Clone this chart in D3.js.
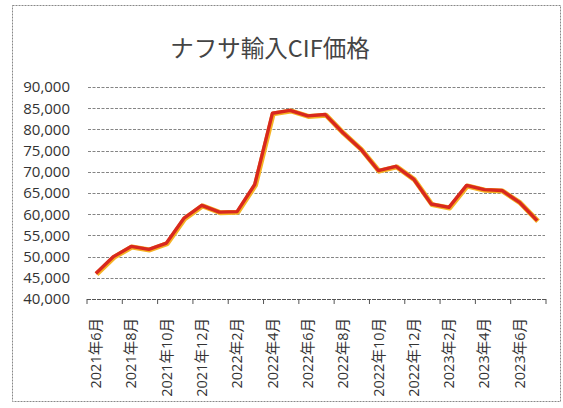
<!DOCTYPE html>
<html>
<head>
<meta charset="utf-8">
<script src="https://cdn.jsdelivr.net/npm/d3@7"></script>
<style>
  body { margin: 0; background: #fff; }
  svg { display: block; }
  .ylab, .xlab { font-family: "Open Sans", "Noto Sans CJK JP", sans-serif; font-size: 15px; fill: #333; }
  .xlab { font-size: 14.5px; }
</style>
</head>
<body>
<svg id="chart" width="563" height="408"></svg>
<script>
// ナフサ輸入CIF価格 (円/kl)
var months = ["2021年6月","2021年7月","2021年8月","2021年9月","2021年10月","2021年11月","2021年12月",
  "2022年1月","2022年2月","2022年3月","2022年4月","2022年5月","2022年6月","2022年7月","2022年8月",
  "2022年9月","2022年10月","2022年11月","2022年12月","2023年1月","2023年2月","2023年3月","2023年4月",
  "2023年5月","2023年6月","2023年7月"];
var prices = [46000, 50000, 52400, 51700, 53200, 59100, 62100, 60500, 60600, 67000, 83800, 84500, 83200,
  83500, 79200, 75400, 70300, 71300, 68300, 62400, 61600, 66800, 65800, 65600, 62800, 58500];
var yTicks = [40000, 45000, 50000, 55000, 60000, 65000, 70000, 75000, 80000, 85000, 90000];
var title = "ナフサ輸入CIF価格";

var svg = d3.select("#chart");

// outer frame (scanned dotted border)
svg.append("rect")
  .attr("x", 12.5).attr("y", 5.5).attr("width", 548).attr("height", 396)
  .attr("fill", "none").attr("stroke", "#888").attr("stroke-width", 1)
  .attr("stroke-dasharray", "2,1");

svg.append("text")
  .attr("x", 270).attr("y", 57)
  .attr("text-anchor", "middle")
  .style("font-family", "'Noto Sans CJK JP', sans-serif")
  .style("font-size", "23.5px")
  .style("fill", "#444")
  .text(title);

var x = d3.scaleBand().domain(months).range([87, 546]);
var y = d3.scaleLinear().domain([40000, 90000]).range([299, 87]);

// gridlines
svg.append("g").selectAll("line")
  .data(yTicks.slice(1))
  .enter().append("line")
  .attr("x1", 88).attr("x2", 545)
  .attr("y1", function(d){ return Math.round(y(d)) + 0.5; })
  .attr("y2", function(d){ return Math.round(y(d)) + 0.5; })
  .attr("stroke", "#666").attr("stroke-width", 0.8)
  .attr("stroke-dasharray", "3,1.5");

// y labels
svg.append("g").selectAll("text")
  .data(yTicks)
  .enter().append("text").classed("ylab", true)
  .attr("x", 70)
  .attr("y", function(d){ return y(d); })
  .attr("dy", "0.36em")
  .attr("text-anchor", "end")
  .text(d3.format(","));

// x axis line + ticks every 2 months
var xAxis = svg.append("g");
xAxis.append("line")
  .attr("x1", 87).attr("x2", 546)
  .attr("y1", Math.round(y(40000)) + 0.5).attr("y2", Math.round(y(40000)) + 0.5)
  .attr("stroke", "#555").attr("stroke-width", 1)
  .attr("stroke-dasharray", "4,1");

var tickPos = d3.range(0, months.length + 1, 2);
xAxis.selectAll("line.tk")
  .data(tickPos)
  .enter().append("line").classed("tk", true)
  .attr("x1", function(i){ return i < months.length ? x(months[i]) : x.range()[1]; })
  .attr("x2", function(i){ return i < months.length ? x(months[i]) : x.range()[1]; })
  .attr("y1", y(40000)).attr("y2", y(40000) + 5)
  .attr("stroke", "#555");

var labelled = months.filter(function(d, i){ return i % 2 === 0; });
xAxis.selectAll("text")
  .data(labelled)
  .enter().append("text").classed("xlab", true)
  .attr("transform", function(d){
    return "translate(" + (x(d) + x.bandwidth() / 2) + "," + 318 + ") rotate(-90)";
  })
  .attr("dy", "0.36em")
  .attr("text-anchor", "end")
  .text(function(d){ return d; });

// price line: orange halo under red, like the scanned print
var line = d3.line()
  .x(function(d, i){ return x(months[i]) + x.bandwidth() / 2; })
  .y(function(d){ return y(d); });

svg.append("path").datum(prices)
  .attr("d", line)
  .attr("fill", "none")
  .attr("stroke", "#f5b324").attr("stroke-width", 5)
  .attr("stroke-linejoin", "round")
  .attr("transform", "translate(0.8,0.6)");

svg.append("path").datum(prices)
  .attr("d", line)
  .attr("fill", "none")
  .attr("stroke", "#d8281e").attr("stroke-width", 3.4)
  .attr("stroke-linejoin", "round");
</script>
</body>
</html>
